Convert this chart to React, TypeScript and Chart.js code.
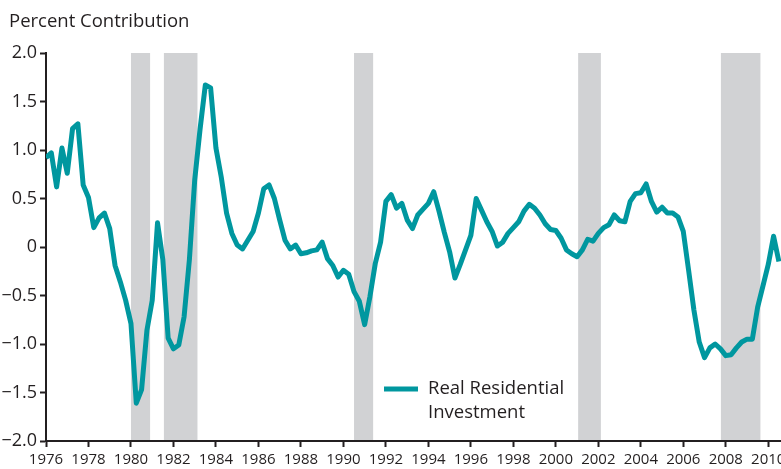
import React, { useEffect, useRef } from "react";
import { Chart, registerables } from "chart.js";

Chart.register(...registerables);

// Quarterly data, 1976Q1 .. 2010Q3
const startYear = 1976;
const residentialValues = [
  0.92, 0.97, 0.62, 1.02, 0.76, 1.22, 1.27, 0.64, 0.51, 0.2, 0.3, 0.35,
  0.19, -0.19, -0.36, -0.55, -0.79, -1.61, -1.47, -0.86, -0.55, 0.25, -0.13, -0.94,
  -1.05, -1.01, -0.72, -0.13, 0.69, 1.21, 1.67, 1.64, 1.02, 0.72, 0.35, 0.14,
  0.02, -0.02, 0.07, 0.16, 0.35, 0.6, 0.64, 0.5, 0.28, 0.07, -0.02, 0.02,
  -0.07, -0.06, -0.04, -0.03, 0.05, -0.12, -0.19, -0.31, -0.24, -0.28, -0.46, -0.56,
  -0.8, -0.51, -0.17, 0.05, 0.47, 0.54, 0.4, 0.45, 0.28, 0.19, 0.33, 0.39,
  0.45, 0.57, 0.37, 0.15, -0.05, -0.32, -0.18, -0.03, 0.12, 0.5, 0.38, 0.26,
  0.16, 0.01, 0.05, 0.14, 0.2, 0.26, 0.37, 0.44, 0.4, 0.33, 0.24, 0.18,
  0.17, 0.09, -0.03, -0.07, -0.1, -0.03, 0.08, 0.06, 0.14, 0.2, 0.23, 0.33,
  0.27, 0.26, 0.47, 0.55, 0.56, 0.65, 0.47, 0.36, 0.41, 0.35, 0.35, 0.31,
  0.16, -0.24, -0.65, -0.98, -1.14, -1.04, -1.0, -1.05, -1.12, -1.11, -1.04, -0.98,
  -0.95, -0.95, -0.62, -0.4, -0.18, 0.11, -0.15,
];

const recessionStarts = [1980.0, 1981.55, 1990.5, 2001.05, 2007.77];
const recessionEnds = [1980.9, 1983.13, 1991.4, 2002.12, 2009.63];

const xTickValues = [1976, 1978, 1980, 1982, 1984, 1986, 1988, 1990, 1992, 1994, 1996, 1998, 2000, 2002, 2004, 2006, 2008, 2010, 2012];
const yTickValues = [-2, -1.5, -1, -0.5, 0, 0.5, 1, 1.5, 2];
const yTickLabels = ["\u22122.0", "\u22121.5", "\u22121.0", "\u22120.5", "0", "0.5", "1.0", "1.5", "2.0"];

const yAxisTitle = "Percent Contribution";
const seriesLabel = ["Real Residential", "Investment"];

const LINE_COLOR = "#00979f";
const SHADE_COLOR = "#d1d2d4";
const INK = "#231f20";
const FONT_FAMILY = "'Open Sans', 'Noto Sans', sans-serif";

const points = residentialValues.map((v, i) => ({ x: startYear + i / 4, y: v }));

const recessionPlugin = {
  id: "recessions",
  beforeDraw(chart: any) {
    const { ctx, chartArea, scales } = chart;
    const xs = scales.x;
    ctx.save();
    ctx.fillStyle = SHADE_COLOR;
    for (let i = 0; i < recessionStarts.length; i++) {
      const x0 = xs.getPixelForValue(recessionStarts[i]);
      const x1 = xs.getPixelForValue(recessionEnds[i]);
      ctx.fillRect(x0, chartArea.top, x1 - x0, chartArea.bottom - chartArea.top);
    }
    ctx.restore();
  },
};

const annotationPlugin = {
  id: "annotations",
  afterDraw(chart: any) {
    const { ctx } = chart;
    ctx.save();
    ctx.fillStyle = INK;
    ctx.font = `18.5px ${FONT_FAMILY}`;
    ctx.textBaseline = "alphabetic";
    ctx.textAlign = "left";
    ctx.fillText(yAxisTitle, 9, 27);

    // legend
    ctx.strokeStyle = LINE_COLOR;
    ctx.lineWidth = 5;
    ctx.lineCap = "butt";
    ctx.beginPath();
    ctx.moveTo(384, 389);
    ctx.lineTo(418, 389);
    ctx.stroke();
    ctx.textBaseline = "middle";
    ctx.fillText(seriesLabel[0], 428, 389);
    ctx.fillText(seriesLabel[1], 428, 413);
    ctx.restore();
  },
};

export default function App() {
  const canvasRef = useRef<HTMLCanvasElement | null>(null);

  useEffect(() => {
    if (!canvasRef.current) return;
    const chart = new Chart(canvasRef.current, {
      type: "line",
      data: {
        datasets: [
          {
            label: seriesLabel.join(" "),
            data: points,
            borderColor: LINE_COLOR,
            borderWidth: 5,
            pointRadius: 0,
            tension: 0,
            borderJoinStyle: "round",
            fill: false,
          },
        ],
      },
      options: {
        responsive: false,
        animation: false,
        devicePixelRatio: 1,
        layout: { padding: { top: 53, left: 0, right: 0, bottom: 0 } },
        plugins: {
          legend: { display: false },
          title: { display: false },
          tooltip: { enabled: false },
        },
        scales: {
          x: {
            type: "linear",
            min: 1976,
            max: 2013,
            afterFit(scale: any) {
              scale.height = 28;
            },
            afterBuildTicks(scale: any) {
              scale.ticks = xTickValues.map((v) => ({ value: v }));
            },
            ticks: {
              autoSkip: false,
              maxRotation: 0,
              padding: 4,
              color: INK,
              font: { size: 15, family: FONT_FAMILY },
              callback: (v: any) => String(v),
            },
            grid: {
              drawOnChartArea: false,
              drawTicks: true,
              tickLength: 6,
              tickWidth: 2,
              tickColor: INK,
            },
            border: { display: true, color: INK, width: 2 },
          },
          y: {
            type: "linear",
            min: -2,
            max: 2,
            afterFit(scale: any) {
              scale.width = 46;
            },
            afterBuildTicks(scale: any) {
              scale.ticks = yTickValues.map((v) => ({ value: v }));
            },
            ticks: {
              padding: 3,
              color: INK,
              font: { size: 18, family: FONT_FAMILY },
              callback: (_v: any, i: number) => yTickLabels[i],
            },
            grid: {
              drawOnChartArea: false,
              drawTicks: true,
              tickLength: 6,
              tickWidth: 2,
              tickColor: INK,
            },
            border: { display: true, color: INK, width: 2 },
          },
        },
      },
      plugins: [recessionPlugin, annotationPlugin],
    });
    return () => chart.destroy();
  }, []);

  return (
    <div
      style={{
        position: "absolute",
        left: 0,
        top: 0,
        width: 781,
        height: 469,
        overflow: "hidden",
        background: "#ffffff",
      }}
    >
      <canvas ref={canvasRef} width={832} height={469} style={{ display: "block", width: 832, height: 469 }} />
    </div>
  );
}
